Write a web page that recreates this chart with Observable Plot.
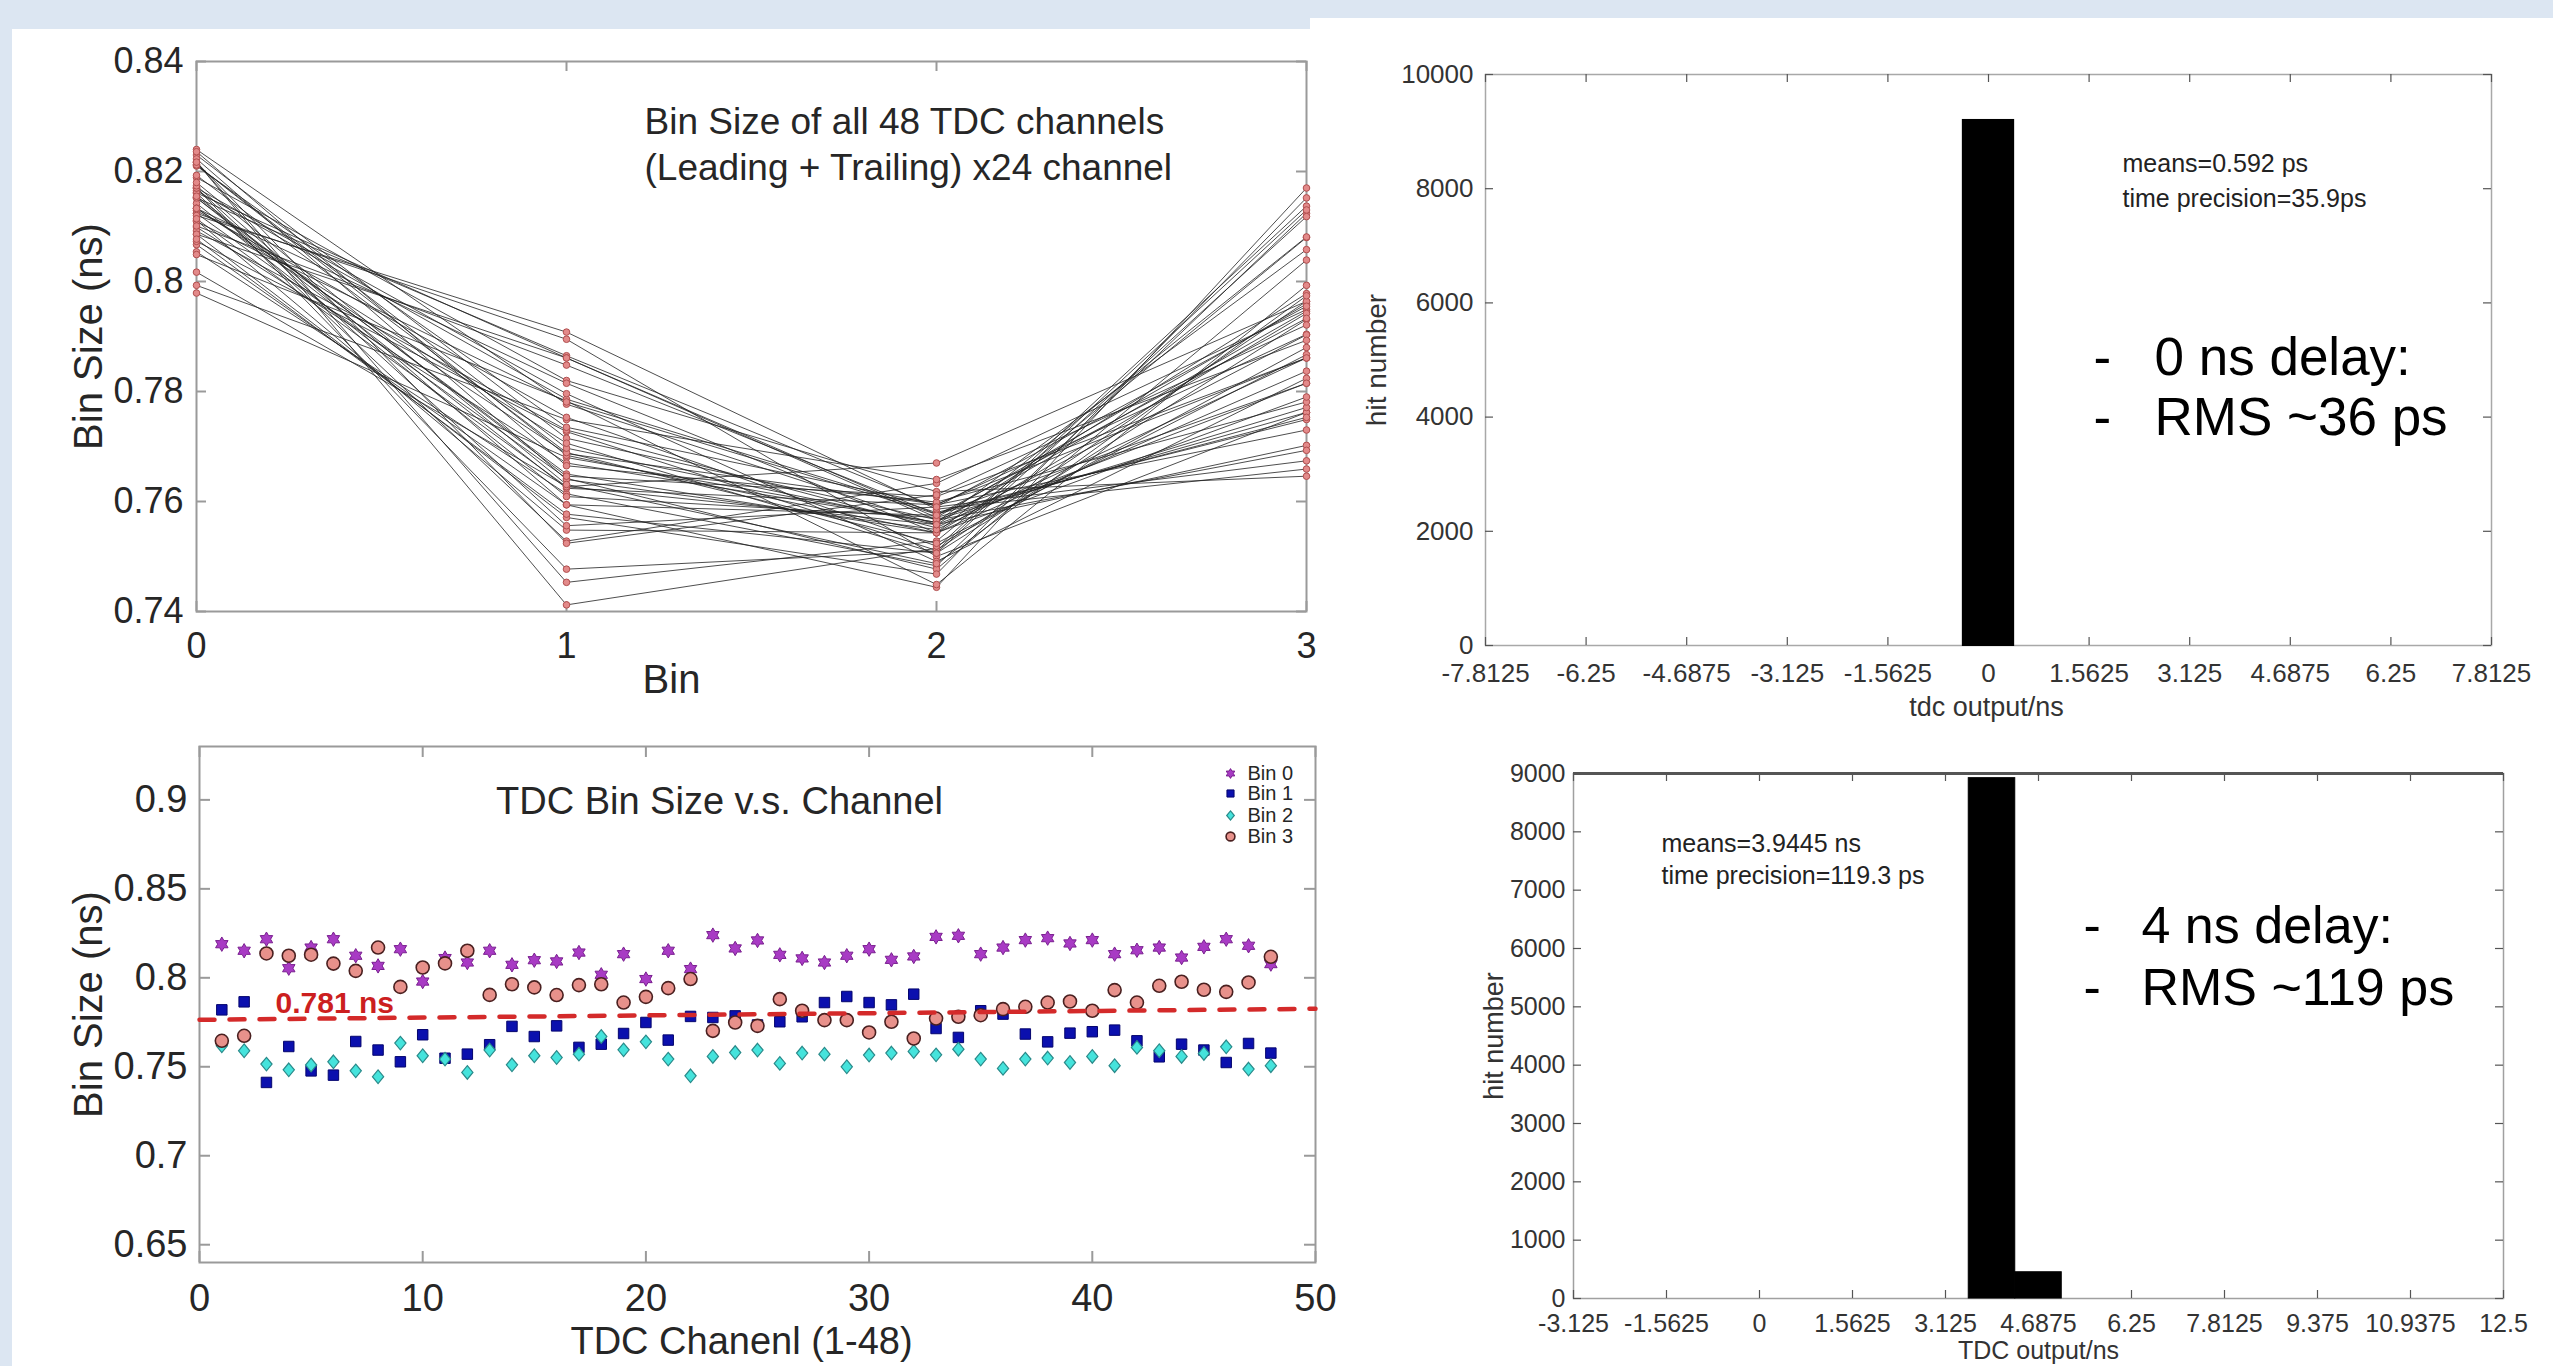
<!DOCTYPE html>
<html><head><meta charset="utf-8">
<script src="https://cdn.jsdelivr.net/npm/d3@7"></script>
<script src="https://cdn.jsdelivr.net/npm/@observablehq/plot@0.6"></script>
<style>
html,body{margin:0;padding:0;background:#dce6f2;}
#page{position:relative;width:2553px;height:1366px;background:#dce6f2;overflow:hidden;font-family:"Liberation Sans",Arial,sans-serif;}
.panel{position:absolute;background:#ffffff;}
.plotbox{position:absolute;}
.plotbox svg{overflow:visible;max-width:none;}
</style></head><body>
<div id="page">
  <div class="panel" style="left:12px;top:29px;width:1300px;height:1337px"></div>
  <div class="panel" style="left:1310px;top:18px;width:1243px;height:1348px"></div>
  <div id="tl" class="plotbox" style="left:0px;top:0px;width:1330px;height:720px"></div>
  <div id="bl" class="plotbox" style="left:0px;top:720px;width:1330px;height:646px"></div>
  <div id="tr" class="plotbox" style="left:1310px;top:0px;width:1243px;height:720px"></div>
  <div id="br" class="plotbox" style="left:1310px;top:720px;width:1243px;height:646px"></div>
</div>
<script>
// ---------------- data ----------------
const binIndex = [0, 1, 2, 3];
const channels = [1,2,3,4,5,6,7,8,9,10,11,12,13,14,15,16,17,18,19,20,21,22,23,24,25,26,27,28,29,30,31,32,33,34,35,36,37,38,39,40,41,42,43,44,45,46,47,48];
const bin0 = [0.8189,0.8152,0.8217,0.8054,0.817,0.8217,0.8124,0.8067,0.8161,0.7979,0.8111,0.8086,0.8152,0.8073,0.8099,0.8092,0.8142,0.8017,0.8133,0.7993,0.8152,0.8049,0.824,0.8165,0.821,0.8129,0.8109,0.8086,0.8124,0.8161,0.8101,0.812,0.823,0.8236,0.8133,0.817,0.8212,0.8223,0.8193,0.8212,0.8133,0.8155,0.817,0.8114,0.8174,0.8217,0.818,0.8077];
const bin1 = [0.782,0.7865,0.7412,0.7614,0.7477,0.7453,0.7642,0.7594,0.7528,0.768,0.7548,0.7571,0.7624,0.7727,0.767,0.773,0.7609,0.7627,0.7687,0.7749,0.765,0.7783,0.7777,0.7786,0.7735,0.7753,0.7781,0.7861,0.7895,0.7861,0.7848,0.7908,0.7715,0.7665,0.7815,0.7796,0.7684,0.764,0.7689,0.7697,0.7706,0.7646,0.7556,0.7627,0.7594,0.7524,0.7631,0.7577];
const bin2 = [0.7618,0.759,0.7515,0.7483,0.751,0.7528,0.7477,0.7444,0.7633,0.7562,0.7543,0.7468,0.7594,0.7511,0.7562,0.7552,0.7571,0.767,0.7595,0.764,0.7543,0.7449,0.7558,0.758,0.7594,0.7519,0.7577,0.7571,0.75,0.7566,0.7577,0.7586,0.7567,0.7599,0.7543,0.7491,0.7543,0.7549,0.7524,0.7558,0.7506,0.7609,0.759,0.7558,0.7575,0.7612,0.7487,0.7506];
const bin3 = [0.7646,0.7674,0.8137,0.8124,0.813,0.808,0.8039,0.817,0.7949,0.8058,0.8081,0.8152,0.7904,0.7964,0.7946,0.7903,0.7959,0.7964,0.7861,0.7893,0.7942,0.7993,0.7702,0.7749,0.773,0.788,0.7815,0.7762,0.7762,0.7693,0.7753,0.7659,0.7771,0.7781,0.779,0.7824,0.7837,0.7861,0.7867,0.7815,0.7931,0.7861,0.7955,0.7978,0.7933,0.7921,0.7974,0.8118];

const tlXTicks = [0, 1, 2, 3];
const tlYTicks = [0.74, 0.76, 0.78, 0.8, 0.82, 0.84];
const blXTicks = [0, 10, 20, 30, 40, 50];
const blYTicks = [0.65, 0.7, 0.75, 0.8, 0.85, 0.9];
const meanFitX = [0, 50];
const meanFitY = [0.7764, 0.7826];
const meanLabel = "0.781 ns";
const legendLabels = ["Bin 0", "Bin 1", "Bin 2", "Bin 3"];

const trTicksX = [-7.8125, -6.25, -4.6875, -3.125, -1.5625, 0, 1.5625, 3.125, 4.6875, 6.25, 7.8125];
const trTicksY = [0, 2000, 4000, 6000, 8000, 10000];
const trBinLo = [-1.171875, -0.390625, 0.390625];
const trBinHi = [-0.390625, 0.390625, 1.171875];
const trCounts = [0, 9195, 0];

const brTicksX = [-3.125, -1.5625, 0, 1.5625, 3.125, 4.6875, 6.25, 7.8125, 9.375, 10.9375, 12.5];
const brTicksY = [0, 1000, 2000, 3000, 4000, 5000, 6000, 7000, 8000, 9000];
const brBinLo = [3.515625, 4.296875];
const brBinHi = [4.296875, 5.078125];
const brCounts = [8920, 450];

// ---------------- helpers ----------------
const FONT = "Liberation Sans, Arial, Helvetica, sans-serif";
const INK = "#262626";
const baseStyle = {fontFamily: FONT, background: "transparent", overflow: "visible", color: INK};
const MID = {textAnchor: "middle", lineAnchor: "middle"};
const START = {textAnchor: "start", lineAnchor: "middle"};

function boxTicks(xt, yt, fw, fh, L, stroke, sw) {
  return [
    Plot.tickX(xt, {x: d => d, insetTop: fh - L, stroke, strokeWidth: sw}),
    Plot.tickX(xt, {x: d => d, insetBottom: fh - L, stroke, strokeWidth: sw}),
    Plot.tickY(yt, {y: d => d, insetRight: fw - L, stroke, strokeWidth: sw}),
    Plot.tickY(yt, {y: d => d, insetLeft: fw - L, stroke, strokeWidth: sw})
  ];
}

const hexagram = {
  draw(ctx, size) {
    const R = Math.sqrt(size / Math.PI), r = R / Math.sqrt(3);
    for (let k = 0; k < 12; k++) {
      const a = -Math.PI / 2 + k * Math.PI / 6, rad = k % 2 === 0 ? R : r;
      const px = rad * Math.cos(a), py = rad * Math.sin(a);
      if (k === 0) ctx.moveTo(px, py); else ctx.lineTo(px, py);
    }
    ctx.closePath();
  }
};
const tallDiamond = {
  draw(ctx, size) {
    const s = Math.sqrt(size / Math.PI);
    ctx.moveTo(0, -s * 1.15); ctx.lineTo(s * 0.95, 0); ctx.lineTo(0, s * 1.15); ctx.lineTo(-s * 0.95, 0); ctx.closePath();
  }
};

const binStyles = [
  {symbol: hexagram, r: 7.2, fill: "#a83bc4", stroke: "#7a1f90", strokeWidth: 1},
  {symbol: "square", r: 5.9, fill: "#0b10ae", stroke: "#05056e", strokeWidth: 1},
  {symbol: tallDiamond, r: 5.9, fill: "#45e3dc", stroke: "#2a8a8a", strokeWidth: 1.2},
  {symbol: "circle", r: 6.5, fill: "#e8918b", stroke: "#4a2020", strokeWidth: 1.6}
];
const binSeries = [bin0, bin1, bin2, bin3];

// ---------------- top-left: lines per channel ----------------
{
  const W = 1330, H = 720, mL = 196, mR = 24, mT = 61, mB = 109;
  const fw = W - mL - mR, fh = H - mT - mB;
  const rows = channels.flatMap((ch, i) => binSeries.map((arr, b) => ({channel: ch, bin: binIndex[b], value: arr[i]})));
  const p = Plot.plot({
    width: W, height: H, marginLeft: mL, marginRight: mR, marginTop: mT, marginBottom: mB,
    style: baseStyle,
    x: {domain: [0, 3], label: null},
    y: {domain: [0.74, 0.84], label: null},
    marks: [
      Plot.frame({stroke: "#9a9a9a", strokeWidth: 2}),
      ...boxTicks(tlXTicks, tlYTicks, fw, fh, 10, "#9a9a9a", 2),
      Plot.axisX({ticks: tlXTicks, tickSize: 0, tickPadding: 21, tickFormat: d => String(d), fontSize: 36, label: null, fill: INK}),
      Plot.axisY({ticks: tlYTicks, tickSize: 0, tickPadding: 13, tickFormat: d => String(d), fontSize: 36, label: null, fill: INK}),
      Plot.line(rows, {x: "bin", y: "value", z: "channel", stroke: "#222", strokeWidth: 1, strokeOpacity: 0.8}),
      Plot.dot(rows, {x: "bin", y: "value", r: 3.3, fill: "#e38a8a", stroke: "#b14f4f", strokeWidth: 1}),
      Plot.text(["Bin Size of all 48 TDC channels"], {frameAnchor: "top-left", dx: 448, dy: 61, ...START, fontSize: 37, fill: INK}),
      Plot.text(["(Leading + Trailing) x24 channel"], {frameAnchor: "top-left", dx: 448, dy: 107, ...START, fontSize: 37, fill: INK}),
      Plot.text(["Bin Size (ns)"], {frameAnchor: "left", dx: -107, rotate: -90, ...MID, fontSize: 40, fill: INK}),
      Plot.text(["Bin"], {frameAnchor: "bottom", dx: -80, dy: 69, ...MID, fontSize: 40, fill: INK})
    ]
  });
  document.getElementById("tl").append(p);
}

// ---------------- bottom-left: scatter per channel ----------------
{
  const W = 1330, H = 646, mL = 199, mR = 15, mT = 26, mB = 104;
  const fw = W - mL - mR, fh = H - mT - mB;
  const seriesMarks = binSeries.map((arr, b) =>
    Plot.dot(channels.map((ch, i) => ({channel: ch, value: arr[i]})), {x: "channel", y: "value", ...binStyles[b]}));
  const legendY = [27, 47, 69, 90];
  const legendMarks = legendLabels.flatMap((lab, b) => [
    Plot.dot([lab], {frameAnchor: "top-right", dx: -85, dy: legendY[b], ...binStyles[b], r: binStyles[b].r * 0.68}),
    Plot.text([lab], {frameAnchor: "top-right", dx: -68, dy: legendY[b], ...START, fontSize: 20, fill: INK})
  ]);
  const p = Plot.plot({
    width: W, height: H, marginLeft: mL, marginRight: mR, marginTop: mT, marginBottom: mB,
    style: baseStyle,
    x: {domain: [0, 50], label: null},
    y: {domain: [0.64, 0.93], label: null},
    marks: [
      Plot.frame({stroke: "#9a9a9a", strokeWidth: 2}),
      ...boxTicks(blXTicks, blYTicks, fw, fh, 11, "#9a9a9a", 2),
      Plot.axisX({ticks: blXTicks, tickSize: 0, tickPadding: 22, tickFormat: d => String(d), fontSize: 38, label: null, fill: INK}),
      Plot.axisY({ticks: blYTicks, tickSize: 0, tickPadding: 12, tickFormat: d => String(d), fontSize: 38, label: null, fill: INK}),
      ...seriesMarks,
      Plot.line(meanFitX.map((x, i) => ({x, y: meanFitY[i]})), {x: "x", y: "y", stroke: "#d42a2a", strokeWidth: 4.5, strokeDasharray: "15,15"}),
      Plot.text([meanLabel], {frameAnchor: "top-left", dx: 76, dy: 257, ...START, fontSize: 30, fontWeight: "bold", fill: "#cc1f1f"}),
      Plot.text(["TDC Bin Size v.s. Channel"], {frameAnchor: "top", dx: -38, dy: 55, ...MID, fontSize: 38, fill: INK}),
      Plot.text(["Bin Size (ns)"], {frameAnchor: "left", dx: -110, rotate: -90, ...MID, fontSize: 40, fill: INK}),
      Plot.text(["TDC Chanenl (1-48)"], {frameAnchor: "bottom", dx: -16, dy: 79, ...MID, fontSize: 38, fill: INK}),
      ...legendMarks
    ]
  });
  document.getElementById("bl").append(p);
}

// ---------------- top-right: histogram, 0 ns delay ----------------
{
  const W = 1243, H = 720, mL = 175, mR = 62, mT = 74, mB = 75;
  const fw = W - mL - mR, fh = H - mT - mB;
  const bins = trCounts.map((c, i) => ({lo: trBinLo[i], hi: trBinHi[i], count: c}));
  const p = Plot.plot({
    width: W, height: H, marginLeft: mL, marginRight: mR, marginTop: mT, marginBottom: mB,
    style: baseStyle,
    x: {domain: [-7.8125, 7.8125], label: null},
    y: {domain: [0, 10000], label: null},
    marks: [
      Plot.frame({stroke: "#a8a8a8", strokeWidth: 1.5}),
      ...boxTicks(trTicksX, trTicksY, fw, fh, 8, "#555", 1.2),
      Plot.axisX({ticks: trTicksX, tickSize: 0, tickPadding: 18, tickFormat: d => String(d), fontSize: 26, label: null, fill: "#333"}),
      Plot.axisY({ticks: trTicksY, tickSize: 0, tickPadding: 12, tickFormat: d => String(d), fontSize: 26, label: null, fill: "#333"}),
      Plot.rectY(bins, {x1: "lo", x2: "hi", y: "count", fill: "#000", stroke: "#000", strokeWidth: 2}),
      Plot.text(["means=0.592 ps"], {frameAnchor: "top-left", dx: 637, dy: 89, ...START, fontSize: 25, fill: "#222"}),
      Plot.text(["time precision=35.9ps"], {frameAnchor: "top-left", dx: 637, dy: 124, ...START, fontSize: 25, fill: "#222"}),
      Plot.text(["-"], {frameAnchor: "top-left", dx: 608, dy: 284, ...START, fontSize: 53, fill: "#000"}),
      Plot.text(["0 ns delay:"], {frameAnchor: "top-left", dx: 669, dy: 284, ...START, fontSize: 53, fill: "#000"}),
      Plot.text(["-"], {frameAnchor: "top-left", dx: 608, dy: 344, ...START, fontSize: 53, fill: "#000"}),
      Plot.text(["RMS ~36 ps"], {frameAnchor: "top-left", dx: 669, dy: 344, ...START, fontSize: 53, fill: "#000"}),
      Plot.text(["hit number"], {frameAnchor: "left", dx: -108, rotate: -90, ...MID, fontSize: 28, fill: "#333"}),
      Plot.text(["tdc output/ns"], {frameAnchor: "bottom", dx: -2, dy: 62, ...MID, fontSize: 27, fill: "#333"})
    ]
  });
  document.getElementById("tr").append(p);
}

// ---------------- bottom-right: histogram, 4 ns delay ----------------
{
  const W = 1243, H = 646, mL = 263, mR = 50, mT = 53, mB = 68;
  const fw = W - mL - mR, fh = H - mT - mB;
  const bins = brCounts.map((c, i) => ({lo: brBinLo[i], hi: brBinHi[i], count: c}));
  const p = Plot.plot({
    width: W, height: H, marginLeft: mL, marginRight: mR, marginTop: mT, marginBottom: mB,
    style: baseStyle,
    x: {domain: [-3.125, 12.5], label: null},
    y: {domain: [0, 9000], label: null},
    marks: [
      Plot.frame({stroke: "#a0a0a0", strokeWidth: 1.5}),
      Plot.ruleY([9000], {stroke: "#555", strokeWidth: 3}),
      ...boxTicks(brTicksX, brTicksY, fw, fh, 8, "#555", 1.2),
      Plot.axisX({ticks: brTicksX, tickSize: 0, tickPadding: 16, tickFormat: d => String(d), fontSize: 25, label: null, fill: "#333"}),
      Plot.axisY({ticks: brTicksY, tickSize: 0, tickPadding: 8, tickFormat: d => String(d), fontSize: 25, label: null, fill: "#333"}),
      Plot.rectY(bins, {x1: "lo", x2: "hi", y: "count", fill: "#000", stroke: "#000", strokeWidth: 1}),
      Plot.text(["means=3.9445 ns"], {frameAnchor: "top-left", dx: 88, dy: 70, ...START, fontSize: 25, fill: "#222"}),
      Plot.text(["time precision=119.3 ps"], {frameAnchor: "top-left", dx: 88, dy: 102, ...START, fontSize: 25, fill: "#222"}),
      Plot.text(["-"], {frameAnchor: "top-left", dx: 510, dy: 153, ...START, fontSize: 52, fill: "#000"}),
      Plot.text(["4 ns delay:"], {frameAnchor: "top-left", dx: 568, dy: 153, ...START, fontSize: 52, fill: "#000"}),
      Plot.text(["-"], {frameAnchor: "top-left", dx: 510, dy: 215, ...START, fontSize: 52, fill: "#000"}),
      Plot.text(["RMS ~119 ps"], {frameAnchor: "top-left", dx: 568, dy: 215, ...START, fontSize: 52, fill: "#000"}),
      Plot.text(["hit number"], {frameAnchor: "left", dx: -79, rotate: -90, ...MID, fontSize: 27, fill: "#333"}),
      Plot.text(["TDC output/ns"], {frameAnchor: "bottom", dx: 0, dy: 52, ...MID, fontSize: 25, fill: "#333"})
    ]
  });
  document.getElementById("br").append(p);
}
</script>
</body></html>
